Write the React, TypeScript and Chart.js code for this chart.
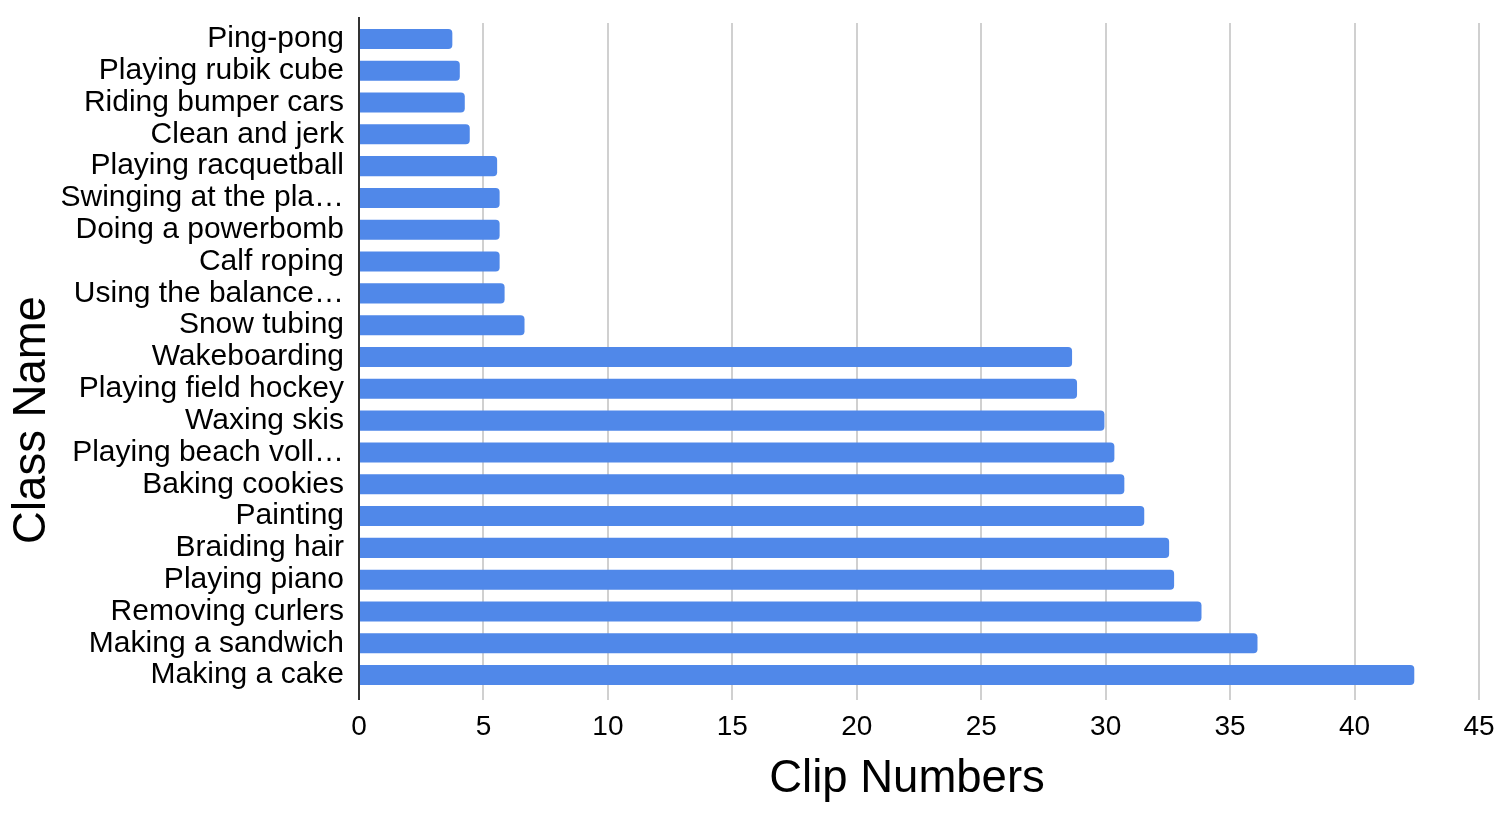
import React, { useEffect, useRef } from "react";
import { Chart, registerables } from "chart.js";

Chart.register(...registerables);

const categories: string[] = [
  "Ping-pong",
  "Playing rubik cube",
  "Riding bumper cars",
  "Clean and jerk",
  "Playing racquetball",
  "Swinging at the pla…",
  "Doing a powerbomb",
  "Calf roping",
  "Using the balance…",
  "Snow tubing",
  "Wakeboarding",
  "Playing field hockey",
  "Waxing skis",
  "Playing beach voll…",
  "Baking cookies",
  "Painting",
  "Braiding hair",
  "Playing piano",
  "Removing curlers",
  "Making a sandwich",
  "Making a cake",
];

const clipNumbers: number[] = [
  3.75, 4.05, 4.25, 4.45, 5.55, 5.65, 5.65, 5.65, 5.85, 6.65,
  28.65, 28.85, 29.95, 30.35, 30.75, 31.55, 32.55, 32.75, 33.85, 36.1, 42.4,
];

const xTitle = "Clip Numbers";
const yTitle = "Class Name";
const xMin = 0;
const xMax = 45;
const xStep = 5;

const FONT = '"Liberation Sans", Arial, Helvetica, sans-serif';

const titlesPlugin = {
  id: "customTitles",
  afterDraw(chart: any) {
    const { ctx } = chart;
    ctx.save();
    ctx.fillStyle = "#000";
    ctx.font = `45.5px ${FONT}`;
    ctx.textAlign = "center";
    ctx.textBaseline = "middle";
    ctx.fillText(xTitle, 907, 779);
    ctx.translate(32, 420);
    ctx.rotate(-Math.PI / 2);
    ctx.fillText(yTitle, 0, 0);
    ctx.restore();
  },
};

const axisLinePlugin = {
  id: "axisLine",
  afterDatasetsDraw(chart: any) {
    const { ctx, chartArea } = chart;
    const x = chart.scales.x.getPixelForValue(0);
    ctx.save();
    ctx.strokeStyle = "#333333";
    ctx.lineWidth = 2;
    ctx.beginPath();
    ctx.moveTo(x, chartArea.top - 6);
    ctx.lineTo(x, chartArea.bottom + 9);
    ctx.stroke();
    ctx.restore();
  },
};

export default function App() {
  const canvasRef = useRef<HTMLCanvasElement | null>(null);

  useEffect(() => {
    const canvas = canvasRef.current;
    if (!canvas) return;
    const chart = new Chart(canvas, {
      type: "bar",
      data: {
        labels: categories,
        datasets: [
          {
            label: xTitle,
            data: clipNumbers,
            backgroundColor: "#5088E9",
            borderRadius: 4,
            borderSkipped: "start",
            barPercentage: 0.63,
            categoryPercentage: 1.0,
          },
        ],
      },
      options: {
        indexAxis: "y",
        animation: false,
        responsive: false,
        maintainAspectRatio: false,
        devicePixelRatio: 1,
        layout: { padding: { top: 23, right: 31, left: 0, bottom: 0 } },
        plugins: {
          legend: { display: false },
          tooltip: { enabled: false },
          title: { display: false },
        },
        scales: {
          x: {
            type: "linear",
            position: "bottom",
            min: xMin,
            max: xMax,
            ticks: {
              stepSize: xStep,
              color: "#000",
              padding: 10,
              font: { family: FONT, size: 28 },
              maxRotation: 0,
            },
            grid: {
              color: "#d0d0d0",
              lineWidth: 2,
              drawTicks: true,
              tickLength: 9,
            },
            border: { display: false },
            afterFit(scale: any) {
              scale.height = 123;
              scale.paddingLeft = 0;
              scale.paddingRight = 0;
            },
          },
          y: {
            type: "category",
            position: "left",
            offset: true,
            ticks: {
              color: "#000",
              padding: 15,
              autoSkip: false,
              font: { family: FONT, size: 30 },
            },
            grid: { display: false, drawTicks: false },
            border: { display: false },
            afterFit(scale: any) {
              scale.width = 359;
              scale.paddingTop = 0;
              scale.paddingBottom = 0;
            },
          },
        },
      },
      plugins: [axisLinePlugin, titlesPlugin],
    });
    return () => chart.destroy();
  }, []);

  return (
    <div style={{ position: "fixed", left: 0, top: 0, width: 1510, height: 814, background: "#fff" }}>
      <canvas ref={canvasRef} width={1510} height={814} style={{ display: "block" }} />
    </div>
  );
}
